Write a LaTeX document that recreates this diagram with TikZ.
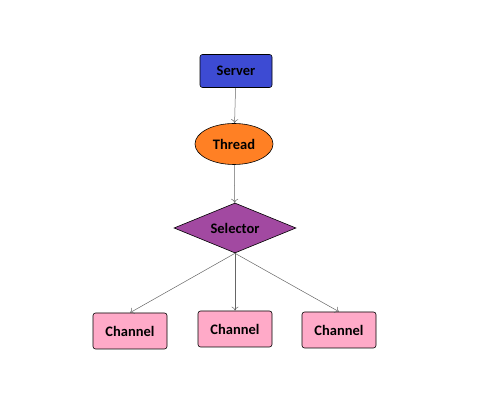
\documentclass[tikz,border=0pt]{standalone}
\usepackage{fontspec}
\setmainfont{Carlito}
\usetikzlibrary{shapes.geometric,arrows.meta}
\definecolor{serverblue}{HTML}{3D4BD3}
\definecolor{threadorange}{HTML}{FF8024}
\definecolor{selpurple}{HTML}{A249A1}
\definecolor{chpink}{HTML}{FFAAC8}
\tikzset{
  lbl/.style={font=\fontsize{14.5}{16}\selectfont\bfseries, text=black},
  boxnode/.style={lbl, draw=black, line width=0.6pt, rounded corners=2.5pt, minimum width=74pt, minimum height=36pt, inner sep=0pt},
  conn/.style={draw=black!60, line width=0.5pt, -{To[length=4pt,width=7pt]}},
}
\begin{document}
\begin{tikzpicture}[x=1pt,y=1pt]
\useasboundingbox (0,0) rectangle (500,411);
\node[boxnode, fill=serverblue, minimum width=72pt, minimum height=33pt] (server) at (236,340) {Server};
\node[lbl, ellipse, draw=black, line width=0.6pt, fill=threadorange, minimum width=78pt, minimum height=41pt, inner sep=0pt] (thread) at (234,267) {Thread};
\node[lbl, diamond, draw=black, line width=0.6pt, fill=selpurple, minimum width=122pt, minimum height=50pt, inner sep=0pt, aspect=2.4] (sel) at (235,183) {Selector};
\node[boxnode, fill=chpink] (c1) at (130,80) {Channel};
\node[boxnode, fill=chpink] (c2) at (235,82) {Channel};
\node[boxnode, fill=chpink] (c3) at (339,81) {Channel};
\draw[conn] (server) -- (thread);
\draw[conn] (thread) -- (sel);
\draw[conn] (sel.south) -- (c1.north);
\draw[conn] (sel.south) -- (c2.north);
\draw[conn] (sel.south) -- (c3.north);
\end{tikzpicture}
\end{document}
